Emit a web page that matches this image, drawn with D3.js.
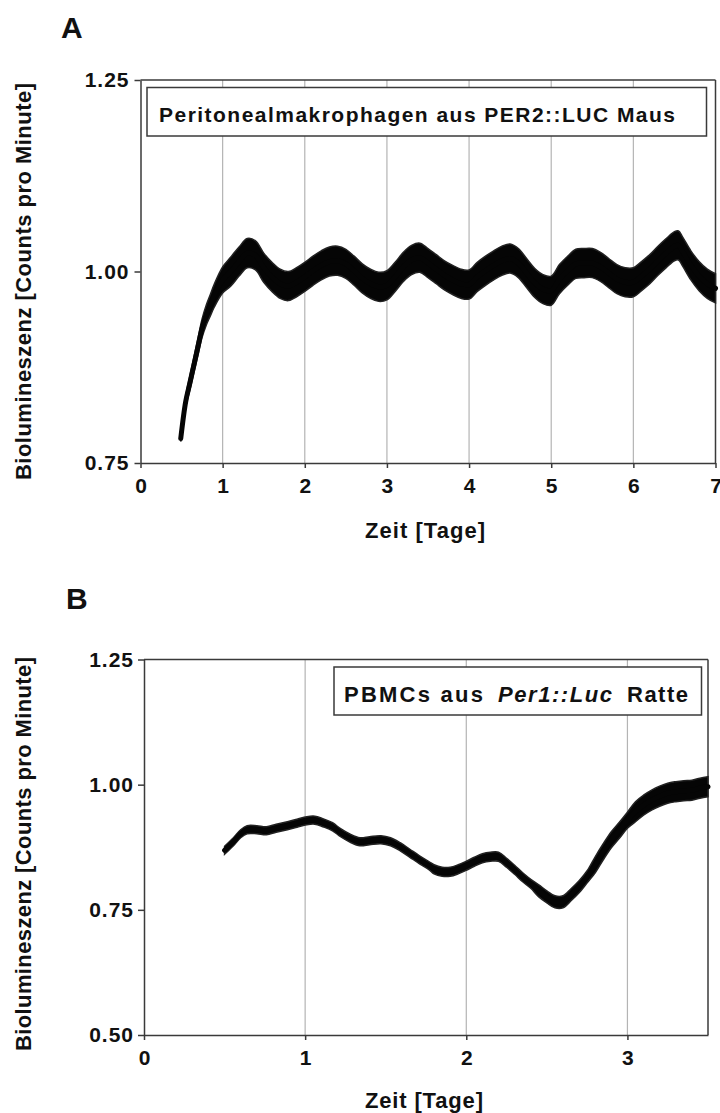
<!DOCTYPE html>
<html><head><meta charset="utf-8">
<script src="https://cdn.jsdelivr.net/npm/d3@7"></script>
<style>
html,body{margin:0;padding:0;background:#fff;}
svg text{font-family:"Liberation Sans",Arial,Helvetica,sans-serif;font-weight:bold;fill:#111;}
</style></head>
<body>
<svg id="chart" width="720" height="1113"></svg>
<script>
// ---------- Panel A data (PER2::LUC mouse macrophages) ----------
const daysA = [0.49,0.55,0.6,0.65,0.7,0.75,0.8,0.85,0.9,
  1.0,1.1,1.2,1.3,1.4,1.5,1.6,1.7,1.8,1.9,
  2.0,2.1,2.2,2.3,2.4,2.5,2.6,2.7,2.8,2.9,
  3.0,3.1,3.2,3.3,3.4,3.5,3.6,3.7,3.8,3.9,
  4.0,4.1,4.2,4.3,4.4,4.5,4.6,4.7,4.8,4.9,
  5.0,5.1,5.2,5.3,5.4,5.5,5.6,5.7,5.8,5.9,
  6.0,6.1,6.2,6.3,6.4,6.5,6.55,6.6,6.7,6.8,6.9,7.0];
const valuesA = [0.782,0.830,0.854,0.878,0.902,0.926,0.943,0.956,0.969,
  0.989,1.000,1.013,1.024,1.021,1.005,0.993,0.984,0.981,0.986,
  0.993,1.001,1.008,1.013,1.014,1.010,1.001,0.991,0.984,0.980,
  0.982,0.993,1.006,1.015,1.018,1.011,1.003,0.995,0.989,0.984,
  0.983,0.993,1.001,1.008,1.014,1.017,1.011,0.998,0.985,0.977,
  0.975,0.990,1.001,1.010,1.011,1.011,1.006,0.998,0.990,0.986,
  0.986,0.994,1.003,1.014,1.024,1.033,1.034,1.026,1.008,0.994,0.984,0.978];
// half-thickness of the noisy band
const spreadA = [0.004,0.007,0.009,0.010,0.011,0.012,0.013,0.014,0.015,
  0.017,0.019,0.019,0.019,0.019,0.019,0.019,0.019,0.019,0.019,
  0.019,0.019,0.019,0.019,0.019,0.019,0.019,0.019,0.019,0.019,
  0.019,0.019,0.019,0.019,0.019,0.019,0.019,0.019,0.019,0.019,
  0.019,0.019,0.019,0.019,0.019,0.019,0.019,0.019,0.019,0.019,
  0.019,0.019,0.019,0.019,0.019,0.019,0.019,0.019,0.019,0.019,
  0.019,0.019,0.019,0.019,0.019,0.019,0.019,0.019,0.019,0.019,0.019,0.019];
const xTicksA = [0,1,2,3,4,5,6,7];
const yTicksA = [0.75,1.00,1.25];

// ---------- Panel B data (Per1::Luc rat PBMCs) ----------
const daysB = [0.5,0.555,0.6,0.64,0.7,0.76,0.82,0.89,0.95,
  1.01,1.06,1.11,1.17,1.22,1.28,1.34,1.4,1.47,1.53,1.59,1.65,1.71,1.77,
  1.8,1.85,1.9,1.95,2.0,2.05,2.1,2.15,2.2,2.25,2.3,2.35,2.4,2.45,2.5,
  2.55,2.6,2.65,2.7,2.75,2.8,2.85,2.9,2.95,3.0,3.05,3.1,3.15,3.2,3.25,
  3.3,3.35,3.4,3.45,3.5];
const valuesB = [0.869,0.886,0.902,0.910,0.910,0.908,0.913,0.918,0.923,
  0.928,0.929,0.924,0.916,0.904,0.893,0.886,0.888,0.890,0.886,0.876,0.863,0.850,0.838,
  0.831,0.826,0.826,0.831,0.838,0.846,0.853,0.856,0.856,0.844,0.830,0.815,0.802,0.788,0.776,
  0.766,0.766,0.780,0.796,0.816,0.840,0.866,0.890,0.909,0.929,0.946,0.959,0.969,0.977,0.983,
  0.986,0.988,0.989,0.993,0.996];
const spreadB = [0.008,0.008,0.008,0.008,0.008,0.008,0.008,0.008,0.008,
  0.008,0.008,0.008,0.008,0.008,0.008,0.008,0.008,0.008,0.008,0.008,0.008,0.008,0.008,
  0.009,0.009,0.009,0.009,0.009,0.009,0.009,0.009,0.009,0.009,0.009,0.009,0.009,0.012,0.012,
  0.012,0.012,0.012,0.012,0.012,0.016,0.016,0.016,0.016,0.016,0.020,0.020,0.020,0.020,0.020,
  0.020,0.020,0.020,0.020,0.020];
const xTicksB = [0,1,2,3];
const yTicksB = [0.50,0.75,1.00,1.25];

const svg = d3.select("#chart");
const AXIS = "#3a3a3a", GRID = "#b4b4b4";

function panel(cfg){
  const {x, y, days, values, spread, xTicks, yTicks} = cfg;
  const g = svg.append("g");
  const [x0, x1] = x.range();
  const [yb, yt] = y.range();
  g.selectAll("line.grid").data(xTicks.filter(d => d > x.domain()[0] && d < x.domain()[1]))
    .join("line").attr("class","grid")
    .attr("x1", d => x(d)).attr("x2", d => x(d))
    .attr("y1", yt).attr("y2", yb)
    .attr("stroke", GRID).attr("stroke-width", 1.2);
  g.append("line").attr("x1", x0).attr("x2", x1).attr("y1", yt).attr("y2", yt)
    .attr("stroke", AXIS).attr("stroke-width", 1.5);
  g.append("line").attr("x1", x1).attr("x2", x1).attr("y1", yt).attr("y2", yb)
    .attr("stroke", AXIS).attr("stroke-width", 1.5);
  const pts = days.map((d,i) => ({d, v: values[i], s: spread[i] ?? spread[spread.length-1]}));
  const area = d3.area().x(p => x(p.d)).y0(p => y(p.v - p.s)).y1(p => y(p.v + p.s))
    .curve(d3.curveCatmullRom);
  const line = d3.line().x(p => x(p.d)).y(p => y(p.v)).curve(d3.curveCatmullRom);
  g.append("path").attr("d", area(pts)).attr("fill", "#050505")
    .attr("stroke", "#222").attr("stroke-width", 1.5);
  g.append("path").attr("d", line(pts)).attr("fill", "none")
    .attr("stroke", "#050505").attr("stroke-width", 5).attr("stroke-linecap","round");
  g.append("rect").attr("x", cfg.box[0]).attr("y", cfg.box[1])
    .attr("width", cfg.box[2]).attr("height", cfg.box[3])
    .attr("fill", "#fff").attr("stroke", AXIS).attr("stroke-width", 1.5);
  const ya = g.append("g").attr("transform", `translate(${x0},0)`)
    .call(d3.axisLeft(y).tickValues(yTicks).tickFormat(d3.format(".2f"))
      .tickSize(6).tickSizeOuter(0).tickPadding(cfg.yPad));
  const xa = g.append("g").attr("transform", `translate(0,${yb})`)
    .call(d3.axisBottom(x).tickValues(xTicks).tickFormat(d3.format("d"))
      .tickSize(5).tickSizeOuter(0).tickPadding(10));
  [ya, xa].forEach(a => {
    a.select(".domain").attr("stroke", AXIS).attr("stroke-width", 1.5);
    a.selectAll(".tick line").attr("stroke", AXIS).attr("stroke-width", 1.5);
    a.selectAll(".tick text").attr("font-size", 21).attr("font-weight","bold")
      .attr("fill", "#111").style("font-family", '"Liberation Sans",Arial,sans-serif');
  });
  ya.selectAll(".tick text").attr("letter-spacing", "1px").attr("dx", "1px");
  return g;
}

// ---------- Panel A ----------
const xA = d3.scaleLinear().domain([0, 7]).range([140.5, 715.5]);
const yA = d3.scaleLinear().domain([0.75, 1.25]).range([463, 80]);
panel({x: xA, y: yA, days: daysA, values: valuesA, spread: spreadA,
  xTicks: xTicksA, yTicks: yTicksA, box: [147, 87.5, 559.5, 48.5], yPad: 6});
svg.append("text").attr("x", 159).attr("y", 122).attr("font-size", 21)
  .attr("textLength", 516).attr("lengthAdjust", "spacing")
  .text("Peritonealmakrophagen aus PER2::LUC Maus");
svg.append("text").attr("x", 61).attr("y", 38).attr("font-size", 30).text("A");
svg.append("text").attr("x", 365).attr("y", 538).attr("font-size", 22)
  .attr("textLength", 120).attr("lengthAdjust", "spacing").text("Zeit [Tage]");
svg.append("text").attr("transform", "translate(31,480) rotate(-90)")
  .attr("font-size", 22).attr("textLength", 397).attr("lengthAdjust", "spacing")
  .text("Biolumineszenz [Counts pro Minute]");

// ---------- Panel B ----------
const xB = d3.scaleLinear().domain([0, 3.5]).range([144, 708]);
const yB = d3.scaleLinear().domain([0.5, 1.25]).range([1035, 659.5]);
panel({x: xB, y: yB, days: daysB, values: valuesB, spread: spreadB,
  xTicks: xTicksB, yTicks: yTicksB, box: [334, 667, 367.5, 48], yPad: 5});
const leg = svg.append("g");
leg.append("text").attr("x", 344).attr("y", 702).attr("font-size", 22)
  .attr("textLength", 139).attr("lengthAdjust", "spacing").text("PBMCs aus");
leg.append("text").attr("x", 498).attr("y", 702).attr("font-size", 22)
  .attr("font-style", "italic").attr("textLength", 114).attr("lengthAdjust", "spacing")
  .text("Per1::Luc");
leg.append("text").attr("x", 627).attr("y", 702).attr("font-size", 22)
  .attr("textLength", 61).attr("lengthAdjust", "spacing").text("Ratte");
svg.append("text").attr("x", 66).attr("y", 609).attr("font-size", 30).text("B");
svg.append("text").attr("x", 365).attr("y", 1108).attr("font-size", 22)
  .attr("textLength", 118).attr("lengthAdjust", "spacing").text("Zeit [Tage]");
svg.append("text").attr("transform", "translate(31,1051) rotate(-90)")
  .attr("font-size", 22).attr("textLength", 394).attr("lengthAdjust", "spacing")
  .text("Biolumineszenz [Counts pro Minute]");
</script>
</body></html>
